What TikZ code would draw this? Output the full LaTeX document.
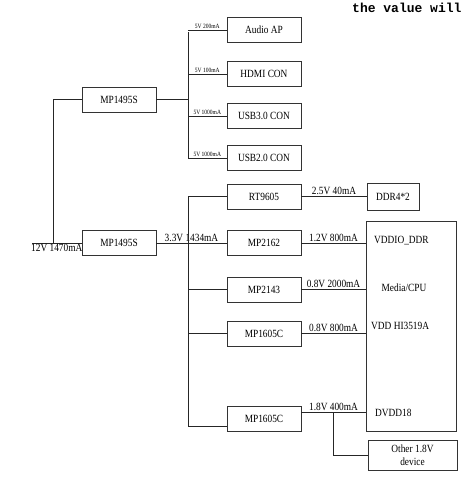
\documentclass[tikz,border=0pt]{standalone}
\usepackage{fontspec}
\setmainfont[FakeStretch=0.85]{Liberation Serif}
\newfontfamily\codefont{Liberation Mono}
\usetikzlibrary{positioning}

\begin{document}
\begin{tikzpicture}[x=1pt,y=-1pt]
% Define styles
\tikzstyle{blk} = [draw=black!80, line width=0.9pt, minimum width=74pt, minimum height=25pt, text centered, inner sep=0pt, font=\fontsize{11}{12}\selectfont]
\tikzstyle{wire} = [draw=black!85, line width=0.8pt]
\tikzstyle{lbl} = [font=\fontsize{11}{12}\selectfont, inner sep=1pt]
\tikzstyle{small} = [font=\fontsize{6.5}{7}\selectfont, inner sep=0.8pt]
\useasboundingbox (0,0) rectangle (466,483);
% Define nodes
\node[anchor=base west, inner sep=0pt, font=\codefont\bfseries\fontsize{13}{14}\selectfont] (note) at (352,12) {the value will};
\node[blk] (audio) at (264,30) {Audio AP};
\node[blk] (hdmi) at (264,74) {HDMI CON};
\node[blk] (usb3) at (264,116) {USB3.0 CON};
\node[blk] (usb2) at (264,158) {USB2.0 CON};
\node[blk] (buckA) at (119,99.5) {MP1495S};
\node[blk] (buckB) at (119,243) {MP1495S};
\node[blk] (rt) at (264,196.5) {RT9605};
\node[blk, minimum width=52pt, minimum height=27pt] (ddr) at (393,196.5) {DDR4*2};
\node[blk] (mp2162) at (264,243) {MP2162};
\node[blk] (mp2143) at (264,289.5) {MP2143};
\node[blk] (mpc1) at (264,333.5) {MP1605C};
\node[blk] (mpc2) at (264,418.5) {MP1605C};
\node[blk, minimum width=90pt, minimum height=210pt] (soc) at (411,326) {};
\node[blk, minimum width=89pt, minimum height=30pt, align=center, font=\fontsize{11}{12.5}\selectfont] (other) at (412.5,455) {Other 1.8V\\device};
\node[lbl, anchor=west] (vddio) at (373,241) {VDDIO\_DDR};
\node[lbl] (media) at (404,288) {Media/CPU};
\node[lbl, anchor=west] (vdd) at (370,326) {VDD HI3519A};
\node[lbl, anchor=west] (dvdd) at (374,413) {DVDD18};
\coordinate (tbus) at (188,99.5);
\coordinate (bbus) at (188,243);
\coordinate (lbus) at (53,243);
\coordinate (feed) at (32,243);
\coordinate (in2) at ([yshift=-7.5pt]mpc2.west);
\coordinate (out2) at ([yshift=6.5pt]mpc2.east);
\coordinate (tap) at (333,412);
% Connect the nodes
\draw[wire] (feed) -- node[lbl, below] {12V 1470mA} (buckB);
\draw[wire] (lbus) |- (buckA);
\draw[wire] (buckA) -- (tbus);
\draw[wire] ([yshift=-2pt]audio.west -| tbus) -- (usb2.west -| tbus);
\draw[wire] (audio.west -| tbus) -- node[small, above] {5V 200mA} (audio);
\draw[wire] (hdmi.west -| tbus) -- node[small, above] {5V 100mA} (hdmi);
\draw[wire] (usb3.west -| tbus) -- node[small, above] {5V 1000mA} (usb3);
\draw[wire] (usb2.west -| tbus) -- node[small, above] {5V 1000mA} (usb2);
\draw[wire] (buckB) -- node[lbl, above] {3.3V 1434mA} (mp2162);
\draw[wire] (rt) -| (bbus |- in2) -- (in2);
\draw[wire] (mp2143) -- (mp2143 -| bbus);
\draw[wire] (mpc1) -- (mpc1 -| bbus);
\draw[wire] (rt) -- node[lbl, above] {2.5V 40mA} (ddr);
\draw[wire] (mp2162) -- node[lbl, above] {1.2V 800mA} (mp2162 -| soc.west);
\draw[wire] (mp2143) -- node[lbl, above] {0.8V 2000mA} (mp2143 -| soc.west);
\draw[wire] (mpc1) -- node[lbl, above] {0.8V 800mA} (mpc1 -| soc.west);
\draw[wire] (out2) -- node[lbl, above] {1.8V 400mA} (out2 -| soc.west);
\draw[wire] (tap) |- (other);
\end{tikzpicture}
\end{document}
